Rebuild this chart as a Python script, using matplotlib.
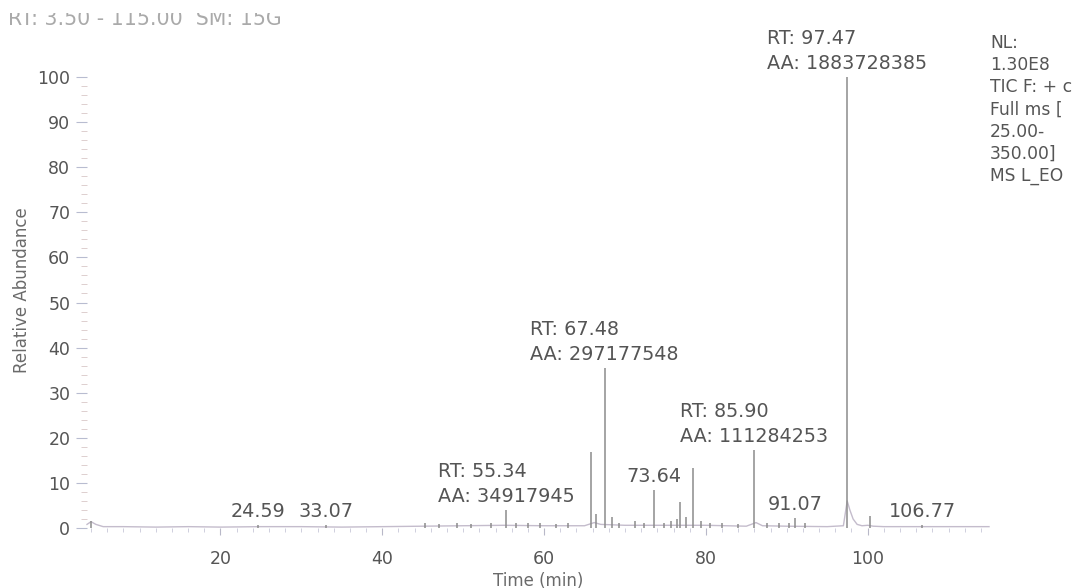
import matplotlib
matplotlib.use("Agg")
import matplotlib.pyplot as plt
from matplotlib.patches import Rectangle
from matplotlib.ticker import MultipleLocator

# peak apexes (retention time in min, relative abundance %)
peak_rt = [4.0, 24.59, 33.07, 45.3, 47.0, 49.2, 51.0, 53.5, 55.34, 56.5, 58.0, 59.5,
           61.5, 63.0, 65.85, 66.4, 67.48, 68.35, 69.3, 71.2, 72.4, 73.64, 74.8, 75.7,
           76.4, 76.8, 77.6, 78.36, 79.4, 80.5, 82.0, 84.0, 85.90, 87.5, 89.0, 90.3,
           91.07, 92.3, 97.47, 100.3, 106.77]
peak_abund = [1.5, 0.6, 0.6, 1.0, 0.8, 1.0, 0.9, 1.0, 4.0, 1.2, 1.0, 1.1,
              0.9, 1.0, 16.9, 3.0, 35.5, 2.5, 1.0, 1.5, 1.0, 8.4, 1.2, 1.6,
              2.0, 5.8, 2.4, 13.3, 1.5, 1.2, 1.0, 0.8, 17.3, 1.0, 1.2, 1.0,
              2.2, 1.0, 100.0, 2.7, 0.6]

# baseline trace (incl. tail of the main peak)
base_t = [3.5, 4.0, 4.6, 5.5, 8, 12, 16, 20, 25, 30, 35, 40, 45, 50, 55, 60, 65,
          66.2, 67, 70, 75, 80, 85, 86.2, 87, 90, 95, 97.0, 97.47, 97.8, 98.2,
          98.7, 99.3, 100.0, 100.7, 102, 105, 110, 115]
base_y = [0.8, 1.4, 0.8, 0.3, 0.3, 0.2, 0.3, 0.2, 0.3, 0.3, 0.2, 0.3, 0.4, 0.5, 0.6,
          0.5, 0.5, 1.2, 0.8, 0.6, 0.6, 0.6, 0.4, 1.2, 0.5, 0.4, 0.3, 0.5, 6.0, 4.0,
          2.0, 0.8, 0.5, 0.6, 0.4, 0.3, 0.3, 0.3, 0.3]

label_rt = [24.59, 33.07, 55.34, 67.48, 73.64, 85.90, 91.07, 97.47, 106.77]
label_text = ["24.59", "33.07", "RT: 55.34\nAA: 34917945", "RT: 67.48\nAA: 297177548",
              "73.64", "RT: 85.90\nAA: 111284253", "91.07",
              "RT: 97.47\nAA: 1883728385", "106.77"]

x_ticks = [20, 40, 60, 80, 100]
y_ticks = [0, 10, 20, 30, 40, 50, 60, 70, 80, 90, 100]

info_text = "NL:\n1.30E8\nTIC F: + c\nFull ms [\n25.00-\n350.00]\nMS L_EO"
header_text = "RT: 3.50 - 115.00  SM: 15G"

txt = "#555555"

fig = plt.figure(figsize=(10.91, 5.88), dpi=100)
ax = fig.add_axes([87 / 1091, 60 / 588, 902 / 1091, 451 / 588])

ax.plot(base_t, base_y, color="#c4bccc", lw=1.0, clip_on=False)
ax.vlines(peak_rt, 0, peak_abund, color="#8c8c8c", lw=1.1)

for rt, lab in zip(label_rt, label_text):
    h = peak_abund[peak_rt.index(rt)]
    ax.annotate(lab, xy=(rt, h), xytext=(0, 3), textcoords="offset points",
                ha="center", va="bottom", multialignment="left",
                fontsize=13.8, color=txt, linespacing=1.4)

ax.set_xlim(3.5, 115)
ax.set_ylim(0, 100)
ax.set_xticks(x_ticks)
ax.set_yticks(y_ticks)
ax.xaxis.set_minor_locator(MultipleLocator(2))
ax.yaxis.set_minor_locator(MultipleLocator(2))
ax.tick_params(axis="x", which="major", length=5, color="#b8b8c8", pad=11,
               labelsize=12.5, labelcolor=txt)
ax.tick_params(axis="x", which="minor", length=3, color="#c8c8d8")
ax.tick_params(axis="y", which="major", length=8, color="#b8bcd0", pad=4,
               labelsize=12.5, labelcolor=txt)
ax.tick_params(axis="y", which="minor", length=4, color="#d8c8c8")
for s in ax.spines.values():
    s.set_visible(False)

fig.text(22 / 1091, 1 - 290 / 588, "Relative Abundance", rotation=90,
         ha="center", va="center", fontsize=12, color="#6a6a6a")
fig.text(538 / 1091, 1 - 581 / 588, "Time (min)", ha="center", va="center",
         fontsize=12, color="#6a6a6a")
fig.text(8 / 1091, 1 - 25 / 588, header_text, ha="left", va="baseline",
         fontsize=14.8, color="#aaaaaa")
# the header line is cropped at the top in the original export
fig.patches.append(Rectangle((0, 1 - 13 / 588), 0.4, 13 / 588, transform=fig.transFigure,
                             facecolor="white", edgecolor="none", zorder=10))
fig.text(990 / 1091, 1 - 34 / 588, info_text, ha="left", va="top",
         fontsize=12.3, color=txt, linespacing=1.3)

fig.savefig("out.png", dpi=100, facecolor="white")
